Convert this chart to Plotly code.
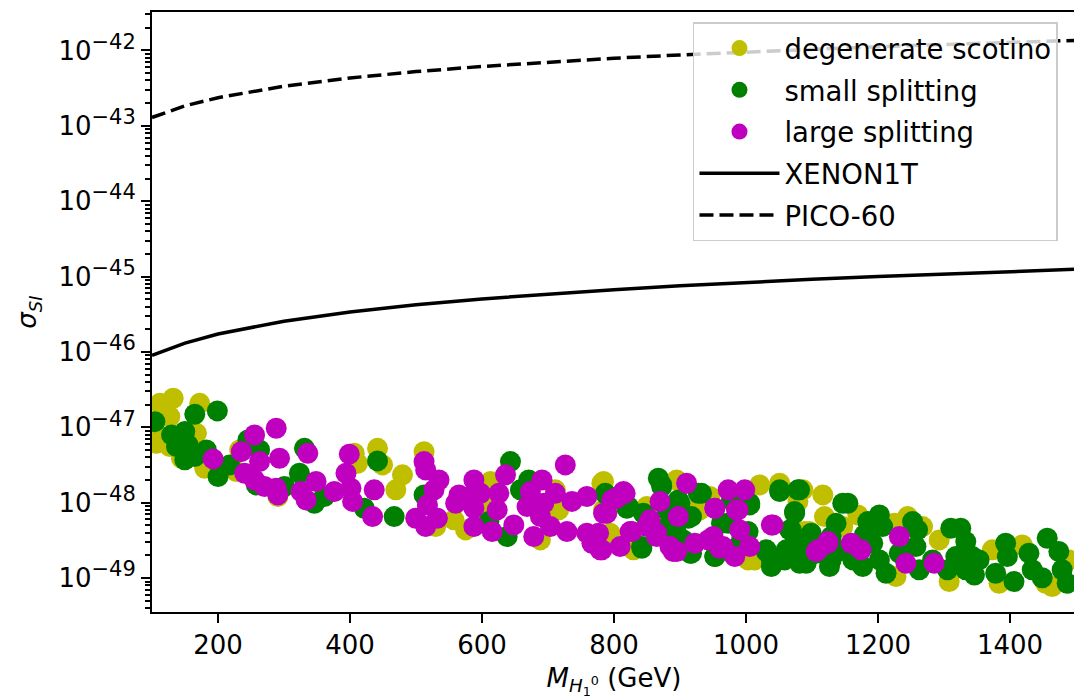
import plotly.graph_objects as go

# ---------------- data ----------------
deg_mass = [111.9, 132.1, 127.0, 172.3, 109.4, 106.9, 127.0, 167.3, 144.7, 179.9,
            232.8, 227.7, 290.7, 406.5, 411.5, 441.7, 449.3,
            479.5, 469.4, 512.2, 529.8, 557.5, 575.2, 612.9, 615.4, 688.5,
            711.1, 716.1, 781.6, 784.1, 794.2,
            894.9, 945.2, 849.6, 1020.7, 1051.0, 1086.2, 1116.4, 1118.9, 1146.6,
            1096.3, 1003.1, 930.1, 834.4, 1005.6,
            1169.4, 1244.9, 1267.5, 1224.7, 1292.7, 1373.3, 1418.6, 1453.9,
            1463.9, 1489.1, 1227.3, 1307.8, 1383.4,
            784.2, 922.6, 1078.7, 998.1, 1013.2, 829.5, 1088.8, 877.3, 1056.0]
deg_sigma = [2.08e-47, 2.43e-47, 1.39e-47, 2.08e-47, 7.93e-48, 6.15e-48, 5.56e-48, 8.34e-48, 3.89e-48, 2.86e-48,
             5.01e-48, 2.59e-48, 1.21e-48, 4.53e-48, 3.33e-48, 5.27e-48, 3.17e-48,
             2.34e-48, 1.48e-48, 4.76e-48, 4.82e-49, 5.92e-49, 4.36e-49, 1.91e-48, 8.43e-49, 3.21e-49,
             1.48e-48, 8.02e-49, 1.81e-48, 8.02e-49, 3.94e-49,
             2.00e-48, 1.21e-48, 8.89e-49, 1.72e-48, 1.81e-48, 1.48e-48, 1.27e-48, 6.55e-49, 4.82e-49,
             4.14e-49, 1.74e-49, 8.02e-49, 2.62e-49, 2.37e-49,
             6.89e-49, 6.55e-49, 4.82e-49, 5.34e-49, 3.21e-49, 2.37e-49, 2.75e-49, 8.55e-50,
             7.72e-50, 1.74e-49, 1.05e-49, 8.99e-50, 8.55e-50,
             1.91e-48, 8.02e-49, 1.04e-48, 1.93e-49, 1.74e-49, 2.37e-49, 4.14e-49, 5.92e-49, 1.93e-49]

small_mass = [104.4, 164.8, 199.0, 129.6, 149.7, 137.1, 154.7, 164.8, 149.7, 182.4,
              217.7, 200.0, 245.3, 263.0, 258.0, 331.0, 323.4, 346.0, 361.2, 300.7,
              441.7, 421.6,
              466.9, 512.2, 643.1, 638.1, 670.8, 658.2, 789.1, 610.4, 821.9,
              867.2, 872.2, 932.6, 899.9, 844.5, 879.8, 917.5, 894.9, 904.9, 842.0,
              917.5, 952.8, 972.9, 1005.6, 1003.1, 1030.8, 1045.9, 1038.4, 1051.0, 1081.2,
              1073.6, 1068.6, 1086.2, 1091.2, 1126.5, 1136.5, 1146.6, 1061.0, 1106.3,
              1154.3, 1184.5, 1202.1, 1207.1, 1179.4, 1192.0, 1161.8, 1176.9, 1202.1, 1212.2,
              1232.3, 1252.4, 1260.0, 1257.5, 1262.5, 1282.7, 1310.3, 1325.4, 1333.0, 1343.1,
              1317.9, 1305.3, 1333.0, 1353.1, 1378.3, 1393.4, 1395.9, 1406.0, 1428.7, 1433.7,
              1456.4, 1474.0, 1479.0, 1486.6, 1346.1, 1448.8, 1143.6,
              786.7, 819.4, 872.3, 927.7, 897.4, 847.1, 877.3, 912.5, 897.4, 842.1,
              915.1, 952.8, 962.9, 978.0, 1005.7, 993.1, 1030.9, 1038.4, 1051.0, 1078.7,
              1073.7, 1066.1, 1073.7, 1088.8, 1081.2, 1129.1, 1129.1, 1098.8, 1058.6]
small_sigma = [1.19e-47, 1.49e-47, 1.65e-47, 7.93e-48, 8.77e-48, 5.56e-48, 5.85e-48, 4.09e-48, 3.70e-48, 5.01e-48,
               3.17e-48, 2.22e-48, 6.81e-48, 5.01e-48, 1.72e-48, 5.27e-48, 2.46e-48, 9.84e-49, 1.21e-48, 1.64e-48,
               3.58e-48, 8.45e-49,
               6.55e-49, 1.27e-48, 3.51e-48, 3.56e-49, 2.00e-48, 1.48e-48, 1.27e-48, 5.62e-49, 8.89e-49,
               2.11e-48, 1.72e-48, 1.33e-48, 9.84e-49, 7.24e-49, 8.02e-49, 6.55e-49, 3.94e-49, 3.21e-49, 2.62e-49,
               2.14e-49, 1.93e-49, 5.33e-49, 9.84e-49, 4.14e-49, 2.37e-49, 1.74e-49, 1.42e-49, 1.48e-48, 1.48e-48,
               7.62e-49, 4.36e-49, 3.21e-49, 1.57e-49, 1.42e-49, 5.33e-49, 9.84e-49, 2.37e-49, 2.14e-49,
               9.84e-49, 5.62e-49, 6.89e-49, 4.82e-49, 3.74e-49, 2.90e-49, 1.74e-49, 1.42e-49, 1.74e-49, 1.16e-49,
               2.14e-49, 5.62e-49, 4.36e-49, 2.62e-49, 1.29e-49, 1.74e-49, 4.58e-49, 4.58e-49, 3.05e-49, 1.93e-49,
               1.93e-49, 1.29e-49, 1.29e-49, 1.74e-49, 1.16e-49, 2.90e-49, 1.93e-49, 8.99e-50, 2.14e-49, 1.29e-49,
               3.38e-49, 2.25e-49, 1.29e-49, 8.55e-50, 1.10e-49, 1.01e-49, 2.31e-49,
               1.33e-48, 8.45e-49, 1.64e-48, 1.33e-48, 1.09e-48, 6.89e-49, 4.58e-49, 6.22e-49, 3.21e-49, 2.49e-49,
               2.14e-49, 1.93e-49, 5.34e-49, 1.09e-48, 9.35e-49, 3.21e-49, 2.25e-49, 1.74e-49, 1.41e-48, 1.48e-48,
               7.24e-49, 4.36e-49, 2.90e-49, 2.37e-49, 1.57e-49, 1.74e-49, 3.56e-49, 3.94e-49, 1.74e-49]

large_mass = [192.5, 255.4, 288.2, 235.3, 240.3, 263.0, 293.2, 255.4, 270.5, 288.2,
              290.7, 336.0, 325.9, 333.5, 348.6, 398.9, 393.9, 376.3, 401.4, 403.9,
              436.7, 434.2,
              512.2, 514.7, 534.9, 527.3, 517.3, 499.6, 514.7, 532.4, 565.1, 560.1,
              587.7, 582.7, 597.8, 587.7, 587.7, 625.5, 623.0, 635.6, 615.4, 648.2,
              691.0, 673.3, 668.3, 693.5, 711.1, 703.6, 678.4, 688.5, 726.2, 736.3,
              758.9, 728.7, 758.9, 766.5, 779.1, 789.1, 796.7,
              814.3, 804.2, 824.4, 809.3, 869.7, 854.6, 864.7, 884.8, 894.9, 897.4,
              910.0, 922.6, 950.3, 965.4, 983.0, 952.8, 972.9, 998.1, 988.0, 990.5,
              1005.6, 1040.9, 1106.3, 1123.9,
              1159.3, 1174.4, 1232.3, 1242.4, 1285.2,
              816.9, 801.8, 784.2, 776.6, 781.6, 826.9, 849.6, 864.7, 942.8, 960.4,
              985.5, 952.8, 1038.4, 1108.9, 1124.0, 889.9]
large_sigma = [3.81e-48, 7.93e-48, 9.72e-48, 4.76e-48, 2.46e-48, 3.51e-48, 3.89e-48, 2.00e-48, 1.64e-48, 1.56e-48,
               1.27e-48, 4.53e-48, 1.41e-48, 1.09e-48, 1.91e-48, 4.40e-48, 2.46e-48, 1.41e-48, 1.56e-48, 1.04e-48,
               1.48e-48, 6.55e-49,
               3.51e-48, 2.72e-48, 2.00e-48, 1.48e-48, 9.35e-49, 6.22e-49, 4.82e-49, 6.22e-49, 1.27e-48, 9.84e-49,
               2.00e-48, 1.21e-48, 1.33e-48, 8.43e-49, 4.82e-49, 1.33e-48, 8.02e-49, 2.34e-48, 4.14e-49, 5.07e-49,
               2.00e-48, 1.41e-48, 8.89e-49, 9.84e-49, 1.33e-48, 4.82e-49, 3.56e-49, 6.55e-49, 3.17e-48, 1.04e-48,
               1.21e-48, 4.14e-49, 3.94e-49, 2.90e-49, 2.37e-49, 7.24e-49, 1.09e-48,
               1.41e-48, 1.15e-48, 4.14e-49, 2.62e-49, 1.04e-48, 5.92e-49, 3.94e-49, 2.62e-49, 2.25e-49, 6.55e-49,
               1.81e-48, 2.90e-49, 3.56e-49, 2.62e-49, 1.93e-49, 8.43e-49, 1.48e-48, 1.48e-48, 8.02e-49, 4.36e-49,
               2.62e-49, 5.07e-49, 2.25e-49, 2.90e-49,
               2.90e-49, 2.37e-49, 3.56e-49, 1.57e-49, 1.57e-49,
               1.33e-48, 1.15e-48, 7.24e-49, 3.94e-49, 2.37e-49, 4.14e-49, 4.82e-49, 3.56e-49, 3.21e-49, 2.49e-49,
               8.02e-49, 8.45e-49, 5.07e-49, 2.37e-49, 3.05e-49, 2.25e-49]

limit_mass = [100, 150, 200, 300, 400, 500, 600, 700, 800, 900, 1000, 1100, 1200, 1300, 1400, 1500]
xenon_sigma = [9.0e-47, 1.31e-46, 1.73e-46, 2.56e-46, 3.39e-46, 4.22e-46, 5.05e-46, 5.87e-46,
               6.70e-46, 7.53e-46, 8.36e-46, 9.19e-46, 1.00e-45, 1.08e-45, 1.17e-45, 1.25e-45]
pico_sigma = [1.29e-43, 1.84e-43, 2.36e-43, 3.36e-43, 4.31e-43, 5.24e-43, 6.13e-43, 7.01e-43,
              7.88e-43, 8.72e-43, 9.56e-43, 1.04e-42, 1.12e-42, 1.20e-42, 1.28e-42, 1.36e-42]

x_ticks = [200, 400, 600, 800, 1000, 1200, 1400]
y_exponents = [-49, -48, -47, -46, -45, -44, -43, -42]

# ---------------- figure ----------------
FONT = "DejaVu Sans"
MS = 21

fig = go.Figure()
fig.add_trace(go.Scatter(x=deg_mass, y=deg_sigma, mode="markers", name="degenerate scotino",
                         marker=dict(color="#bfbf00", size=MS, line=dict(width=0)),
                         legendgroup="g1"))
fig.add_trace(go.Scatter(x=small_mass, y=small_sigma, mode="markers", name="small splitting",
                         marker=dict(color="#008000", size=MS, line=dict(width=0)),
                         legendgroup="g2"))
fig.add_trace(go.Scatter(x=large_mass, y=large_sigma, mode="markers", name="large splitting",
                         marker=dict(color="#bf00bf", size=MS, line=dict(width=0)),
                         legendgroup="g3"))
fig.add_trace(go.Scatter(x=limit_mass, y=xenon_sigma, mode="lines", name="XENON1T",
                         line=dict(color="black", width=3.5), legendgroup="g4"))
fig.add_trace(go.Scatter(x=limit_mass, y=pico_sigma, mode="lines", name="PICO-60",
                         line=dict(color="black", width=3.5, dash="14px,6px"), legendgroup="g5"))

minor_vals = []
for e in range(-50, -41):
    for k in range(2, 10):
        minor_vals.append(k * 10.0 ** e)

# the page body adds an 8 px offset, so the figure is sized/placed to compensate
fig.update_layout(
    width=1074, height=691,
    margin=dict(l=144, r=6, t=4, b=87),
    paper_bgcolor="white", plot_bgcolor="white",
    font=dict(family=FONT, size=26, color="black"),
    showlegend=True,
    legend=dict(x=0.9805, y=0.983, xanchor="right", yanchor="top",
                bgcolor="rgba(255,255,255,0.8)", bordercolor="#cccccc", borderwidth=1.5,
                font=dict(family=FONT, size=27.5, color="black"),
                itemwidth=80, tracegroupgap=3, traceorder="grouped"),
)

fig.update_xaxes(
    range=[100, 1500], tickmode="array", tickvals=x_ticks, automargin=False,
    ticks="outside", ticklen=9, tickwidth=2, tickcolor="black",
    showline=True, linecolor="black", linewidth=2, mirror=True,
    showgrid=False, zeroline=False,
    tickfont=dict(family=FONT, size=26),
    title=dict(text="<i>M</i><sub><i>H</i><sub>1</sub><sup>0</sup></sub> (GeV)",
               font=dict(family=FONT, size=26), standoff=17),
)
fig.update_yaxes(
    type="log", range=[-49.45, -41.49], tickmode="array", automargin=False,
    tickvals=[10.0 ** e for e in y_exponents],
    ticktext=["10<sup><span style='font-size:21px'>\u2212%d</span></sup>" % (-e) for e in y_exponents],
    ticks="outside", ticklen=9, tickwidth=2, tickcolor="black",
    minor=dict(tickmode="array", tickvals=minor_vals, ticks="outside", ticklen=5,
               tickwidth=1.5, tickcolor="black", showgrid=False),
    showline=True, linecolor="black", linewidth=2, mirror=True,
    showgrid=False, zeroline=False,
    tickfont=dict(family=FONT, size=26),
    title=dict(text="<i>\u03c3</i><sub><i>SI</i></sub>", font=dict(family=FONT, size=26), standoff=14),
)

fig.write_html("out.html", config={"displayModeBar": False})
